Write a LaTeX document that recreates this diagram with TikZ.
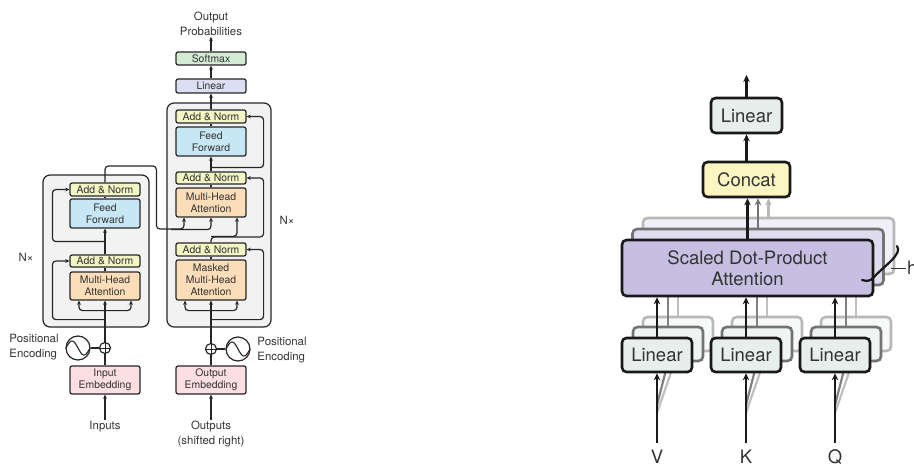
\documentclass[tikz,border=0pt]{standalone}
\usepackage{fontspec}
\setmainfont{TeX Gyre Heros}
\usetikzlibrary{arrows.meta,calc}
\definecolor{txt}{HTML}{333333}
\definecolor{cAN}{HTML}{F2F5C4}
\definecolor{cFF}{HTML}{C7E7F5}
\definecolor{cMHA}{HTML}{FBDDB9}
\definecolor{cEmb}{HTML}{FBDFE3}
\definecolor{cSoft}{HTML}{D4EBD6}
\definecolor{cLinL}{HTML}{DCDFF1}
\definecolor{cOuter}{HTML}{F2F2F2}
\definecolor{cLinR}{HTML}{E8EEEB}
\definecolor{cConcat}{HTML}{FBF6C1}
\definecolor{cSDPA}{HTML}{C7BFE2}
\begin{document}
\begin{tikzpicture}[x=1pt,y=-1pt,
  lbox/.style={draw=black!85, line width=1.2pt, rounded corners=2pt, minimum width=70pt,
    inner sep=0pt, align=center, font=\fontsize{10.4}{12}\selectfont, text=txt},
  outerbox/.style={draw=black!85, line width=1.2pt, rounded corners=7pt, fill=cOuter, inner sep=0pt},
  lbl/.style={font=\fontsize{11.4}{14.5}\selectfont, text=txt, align=center, inner sep=1pt},
  conn/.style={line width=1.2pt, draw=black!85, rounded corners=3.5pt},
  arr/.style={conn, -{Stealth[length=4.2pt,width=3.8pt]}},
  circ/.style={circle, draw=black!85, line width=1.2pt, inner sep=0pt, fill=white},
  rbox/.style={draw=black!90, line width=2.6pt, rounded corners=4.5pt, align=center,
    font=\fontsize{18.5}{21.5}\selectfont, text=txt, inner sep=0pt},
  shA/.style={rbox, draw=black!55},
  shB/.style={rbox, draw=black!28},
  barr/.style={line width=2.4pt, draw=black!90, -{Stealth[length=7pt,width=6.5pt]}},
  garrA/.style={line width=2.4pt, draw=black!55, -{Stealth[length=7pt,width=6.5pt]}},
  garrB/.style={line width=2.4pt, draw=black!28, -{Stealth[length=7pt,width=6.5pt]}},
  glineA/.style={line width=2.2pt, draw=black!50},
  glineB/.style={line width=2.2pt, draw=black!25},
  rlbl/.style={font=\fontsize{18.5}{21.5}\selectfont, text=txt, inner sep=0pt}
]
\useasboundingbox (0,0) rectangle (914,468);

% ================= LEFT: Transformer =================
\node[outerbox, minimum width=106pt, minimum height=152pt] (enc) at (96,251) {};
\node[outerbox, minimum width=104pt, minimum height=224pt] (dec) at (219,215) {};

% encoder boxes
\node[lbox, fill=cAN, minimum height=13pt] (encAN2) at (105,189.5) {Add \& Norm};
\node[lbox, fill=cFF, minimum height=29pt] (encFF) at (105,213.5) {Feed\\Forward};
\node[lbox, fill=cAN, minimum height=12pt] (encAN1) at (105,261) {Add \& Norm};
\node[lbox, fill=cMHA, minimum height=28pt] (encMHA) at (105,286) {Multi-Head\\Attention};
\node[lbox, fill=cEmb, minimum height=28pt] (inEmb) at (105,380) {Input\\Embedding};
\node[circ, minimum size=11pt] (encPlus) at (105,348) {};
\node[circ, minimum size=24pt] (encSine) at (78,348) {};
\node[lbl] (inputs) at (105,427) {Inputs};
\node[lbl, align=left] (encPE) at (34,347) {Positional\\Encoding};
\node[lbl] (encN) at (26,257) {N×};

% decoder boxes
\node[lbox, fill=cAN, minimum height=13pt] (decAN3) at (211,116.5) {Add \& Norm};
\node[lbox, fill=cFF, minimum height=29pt] (decFF) at (211,141.5) {Feed\\Forward};
\node[lbox, fill=cAN, minimum height=12pt] (decAN2) at (211,178) {Add \& Norm};
\node[lbox, fill=cMHA, minimum height=29pt] (decMHA) at (211,202.5) {Multi-Head\\Attention};
\node[lbox, fill=cAN, minimum height=13pt] (decAN1) at (211,249.5) {Add \& Norm};
\node[lbox, fill=cMHA, minimum height=40pt] (decMMHA) at (211,280) {Masked\\Multi-Head\\Attention};
\node[lbox, fill=cEmb, minimum height=28pt] (outEmb) at (211,380) {Output\\Embedding};
\node[circ, minimum size=11pt] (decPlus) at (211,349) {};
\node[circ, minimum size=24pt] (decSine) at (238,349) {};
\node[lbl] (outputs) at (211,434) {Outputs\\(shifted right)};
\node[lbl, align=left] (decPE) at (282,350) {Positional\\Encoding};
\node[lbl] (decN) at (287,220) {N×};
\node[lbox, fill=cLinL, minimum height=14pt] (lin) at (211,86) {Linear};
\node[lbox, fill=cSoft, minimum height=13pt] (soft) at (211,58.5) {Softmax};
\node[lbl] (outprob) at (211,24) {Output\\Probabilities};

% plus signs and sine waves
\foreach \p in {encPlus,decPlus}{
  \draw[line width=1pt, black!85] (\p.north) -- (\p.south) (\p.west) -- (\p.east);
}
\draw[line width=1.1pt, black!85] plot[domain=-12:12, samples=40] ({78+\x},{348+7*sin(\x*15)});
\draw[line width=1.1pt, black!85] plot[domain=-12:12, samples=40] ({238+\x},{349+7*sin(\x*15)});

% encoder connectors
\draw[arr] (inputs.north) -- (inEmb.south);
\draw[conn] (inEmb.north) -- (encPlus.south);
\draw[conn] (encSine.east) -- (encPlus.west);
\draw[arr] (encPlus.north) -- (encMHA.south);
\draw[arr] ($(encMHA.south)+(0,19)$) -| ($(encAN1.west)+(-17,0)$) -- (encAN1.west);
\draw[arr] ($(encMHA.south)+(0,10)$) -| ($(encMHA.south)+(-26,0)$);
\draw[arr] ($(encMHA.south)+(0,10)$) -| ($(encMHA.south)+(26,0)$);
\draw[conn] (encMHA.north) -- (encAN1.south);
\draw[arr] (encAN1.north) -- (encFF.south);
\draw[arr] ($(encFF.south)+(0,13)$) -| ($(encAN2.west)+(-17,0)$) -- (encAN2.west);
\draw[conn] (encFF.north) -- (encAN2.south);
\draw[arr] (encAN2.north) |- ($(dec.west)+(-10,-49)$) -- ($(dec.west)+(-10,14)$) -| ($(decMHA.south)+(-27,0)$);
\draw[arr] ($(decMHA.south)+(-40,12)$) -| (decMHA.south);

% decoder connectors
\draw[arr] (outputs.north) -- (outEmb.south);
\draw[conn] (outEmb.north) -- (decPlus.south);
\draw[conn] (decSine.west) -- (decPlus.east);
\draw[arr] (decPlus.north) -- (decMMHA.south);
\draw[arr] ($(decMMHA.south)+(0,19)$) -| ($(decAN1.east)+(17,0)$) -- (decAN1.east);
\draw[arr] ($(decMMHA.south)+(0,10)$) -| ($(decMMHA.south)+(-26,0)$);
\draw[arr] ($(decMMHA.south)+(0,10)$) -| ($(decMMHA.south)+(26,0)$);
\draw[conn] (decMMHA.north) -- (decAN1.south);
\draw[arr] (decAN1.north) |- ($(decAN2.east)+(17,59)$) |- (decAN2.east);
\draw[arr] ($(decAN1.north)+(0,-6)$) -| ($(decMHA.south)+(26,0)$);
\draw[conn] (decMHA.north) -- (decAN2.south);
\draw[arr] (decAN2.north) -- (decFF.south);
\draw[arr] ($(decFF.south)+(0,11)$) -| ($(decAN3.east)+(17,0)$) -- (decAN3.east);
\draw[conn] (decFF.north) -- (decAN3.south);
\draw[arr] (decAN3.north) -- (lin.south);
\draw[arr] (lin.north) -- (soft.south);
\draw[arr] (soft.north) -- (outprob.south);

% ================= RIGHT: Multi-Head Attention =================
% shadow layer 2 (lightest)
\foreach \n/\cx in {V/657,K/746,Q/835}{
  \node[shB, fill=cLinR!35!white, minimum width=70pt, minimum height=34pt] (lin\n S2) at (\cx+21,334) {};
}
\node[shB, fill=cSDPA!25!white, minimum width=251pt, minimum height=56pt] (sdpaS2) at (768.5,246) {};
\foreach \n in {V,K,Q}{
  \draw[glineB] (lin\n S2.north) -- (lin\n S2.north |- sdpaS2.south);
}
% shadow layer 1
\foreach \n/\cx in {V/657,K/746,Q/835}{
  \node[shA, fill=cLinR!70!white, minimum width=70pt, minimum height=34pt] (lin\n S1) at (\cx+11,344) {};
}
\node[shA, fill=cSDPA!55!white, minimum width=251pt, minimum height=56pt] (sdpaS1) at (758,257) {};
\foreach \n in {V,K,Q}{
  \draw[glineA] (lin\n S1.north) -- (lin\n S1.north |- sdpaS1.south);
}
% main layer
\node[rbox, fill=cSDPA, minimum width=251pt, minimum height=56pt] (sdpa) at (747.5,268) {Scaled Dot-Product\\Attention};
\foreach \n/\cx in {V/657,K/746,Q/835}{
  \coordinate (in\n) at (\cx,443);
  \draw[glineB] ($(in\n)+(0,-30)$) -- (lin\n S2.south);
  \draw[glineA] ($(in\n)+(0,-38)$) -- (lin\n S1.south);
  \node[rbox, fill=cLinR, minimum width=70pt, minimum height=34pt] (lin\n) at (\cx,355) {Linear};
  \draw[barr] (lin\n.north) -- (lin\n.north |- sdpa.south);
  \draw[barr] (in\n) -- (lin\n.south);
}
\node[rlbl] (lblV) at (657,457) {V};
\node[rlbl] (lblK) at (746,457) {K};
\node[rlbl] (lblQ) at (835,457) {Q};

\node[rbox, fill=cConcat, minimum width=87pt, minimum height=35pt] (concat) at (746.5,179.5) {Concat};
\node[rbox, fill=cLinR, minimum width=71pt, minimum height=35pt] (mlin) at (746.5,115.5) {Linear};
\coordinate (mout) at (746.5,75);
\draw[garrB] (sdpaS2.north) -- (sdpaS2.north |- concat.south);
\draw[garrA] (sdpaS1.north) -- (sdpaS1.north |- concat.south);
\draw[barr] (sdpa.north) -- (sdpa.north |- concat.south);
\draw[barr] (concat.north) -- (mlin.south);
\draw[barr] (mlin.north) -- (mout);

% h brace
\draw[line width=2.2pt, black!90, line cap=round] (897,246) .. controls (903,254) and (884,266) .. (874,277) .. controls (870,282) and (866,281) .. (862,280);
\draw[line width=1pt, black!80] (891,268) -- (906,268);
\node[rlbl, anchor=west] (hlbl) at (907,268) {h};
\end{tikzpicture}
\end{document}
